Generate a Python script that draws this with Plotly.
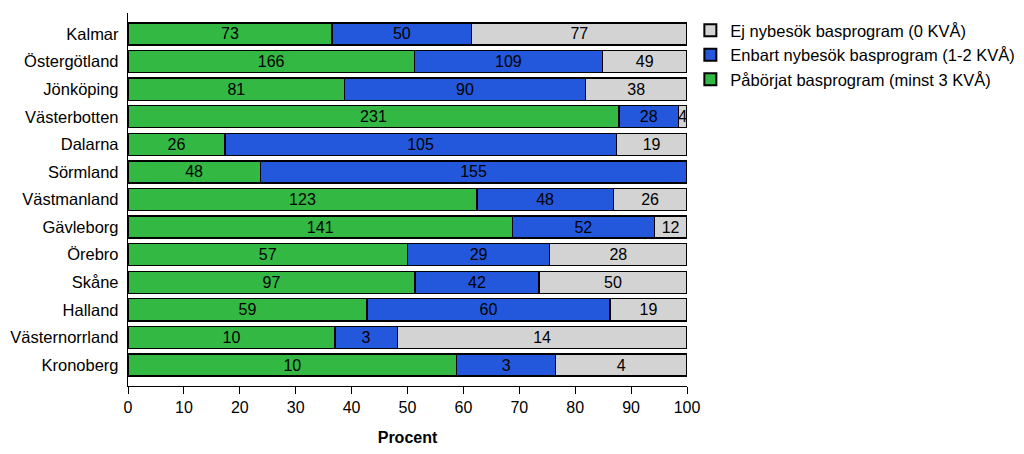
import plotly.graph_objects as go

regions = ["Kalmar", "Östergötland", "Jönköping", "Västerbotten", "Dalarna", "Sörmland",
           "Västmanland", "Gävleborg", "Örebro", "Skåne", "Halland", "Västernorrland", "Kronoberg"]
started = [73, 166, 81, 231, 26, 48, 123, 141, 57, 97, 59, 10, 10]
only_new = [50, 109, 90, 28, 105, 155, 48, 52, 29, 42, 60, 3, 3]
none_new = [77, 49, 38, 4, 19, 0, 26, 12, 28, 50, 19, 14, 4]

series = [
    ("Påbörjat basprogram (minst 3 KVÅ)", started, "#33B843"),
    ("Enbart nybesök basprogram (1-2 KVÅ)", only_new, "#2358DC"),
    ("Ej nybesök basprogram (0 KVÅ)", none_new, "#D3D3D3"),
]

totals = [a + b + c for a, b, c in zip(started, only_new, none_new)]

fig = go.Figure()
for name, vals, color in series:
    pct = [v / t * 100 for v, t in zip(vals, totals)]
    fig.add_trace(go.Bar(
        y=regions, x=pct, orientation="h", name=name,
        marker=dict(color=color, line=dict(color="black", width=1.3)),
        text=[str(v) if v > 0 else "" for v in vals],
        textposition="inside", insidetextanchor="middle", textangle=0,
        textfont=dict(family="Liberation Sans, Arial", size=16, color="black"),
        hoverinfo="skip",
    ))

# the page body adds an 8px offset, so the figure is sized to fit inside the window
fig.update_layout(
    barmode="stack", bargap=0.2,
    width=1016, height=446,
    margin=dict(l=120, r=337, t=5, b=68, autoexpand=False),
    paper_bgcolor="white", plot_bgcolor="white",
    font=dict(family="Liberation Sans, Arial", size=16, color="black"),
    uniformtext=dict(mode=False),
    legend=dict(x=1.006, y=1.0, xanchor="left", yanchor="top",
                bgcolor="rgba(0,0,0,0)",
                traceorder="reversed", font=dict(size=16.5),
                tracegroupgap=0, itemsizing="constant"),
    showlegend=True,
)
fig.update_traces(constraintext="none")
fig.update_xaxes(range=[0, 100], dtick=10, showline=True, linecolor="black", linewidth=1.3,
                 ticks="outside", ticklen=7, tickcolor="black", tickwidth=1.3,
                 showgrid=False, zeroline=False, automargin=False,
                 title=dict(text="<b>Procent</b>", font=dict(size=16), standoff=16),
                 tickfont=dict(size=16))
fig.update_yaxes(range=[12.76, -0.76], showline=True, linecolor="black", linewidth=1.3,
                 showgrid=False, ticks="", tickfont=dict(size=16.5), ticklabelstandoff=5,
                 automargin=False)

fig.write_html("out.html")
